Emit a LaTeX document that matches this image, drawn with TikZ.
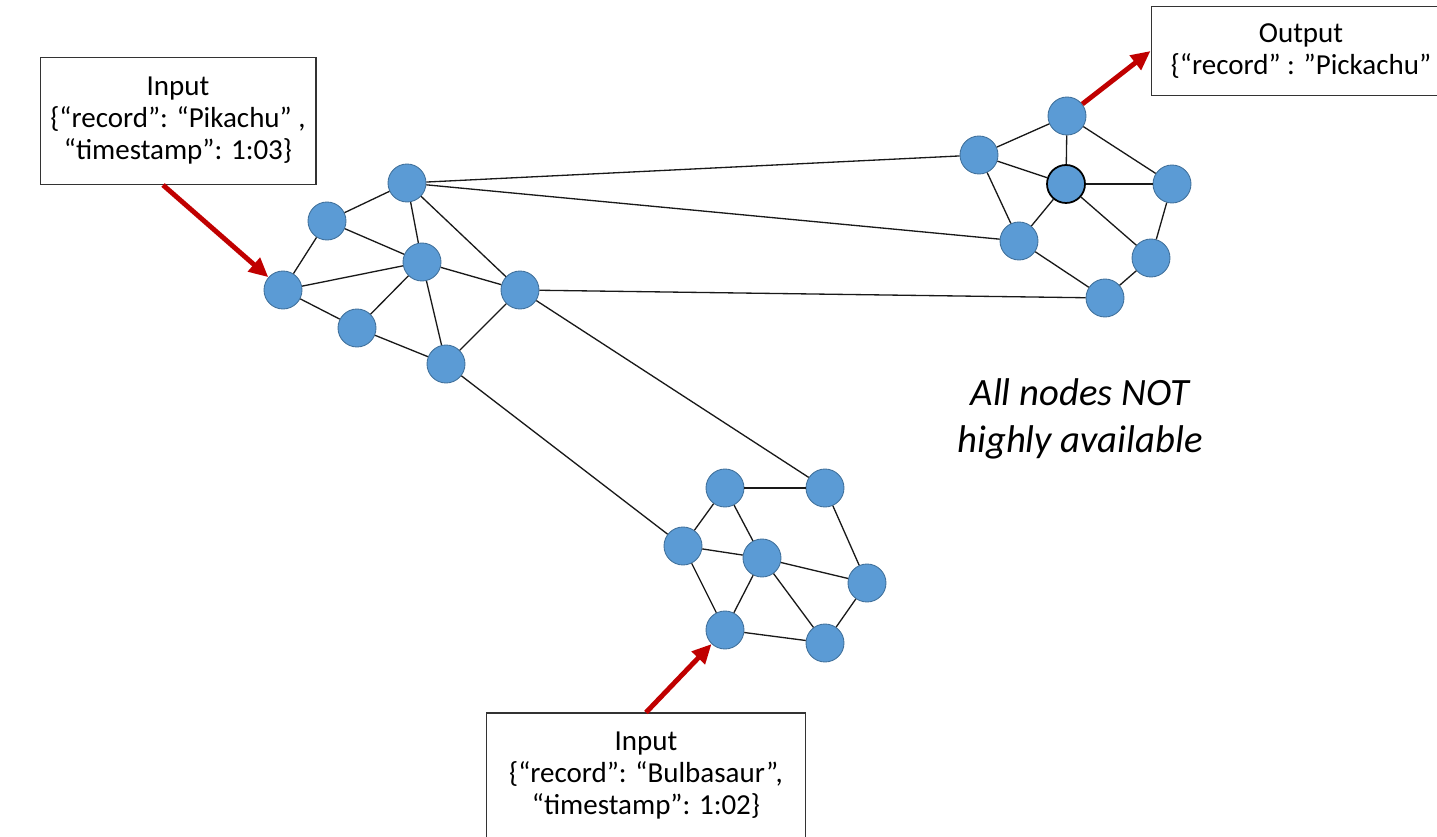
\documentclass[tikz,border=0pt]{standalone}
\usepackage{fontspec}
\setmainfont{Carlito}
\usetikzlibrary{positioning,arrows.meta}
\definecolor{nodeblue}{HTML}{5B9BD5}
\definecolor{nodeedge}{HTML}{41719C}
\definecolor{feedred}{HTML}{C00000}

\begin{document}
\begin{tikzpicture}
    [x=0.02cm, y=-0.02cm,
     vertex/.style={circle,fill=nodeblue,draw=nodeedge,line width=0.5pt,minimum size=0.76cm,inner sep=0pt},
     hub/.style={vertex,draw=black,line width=1pt},
     doc/.style={rectangle,draw=black!80,line width=0.6pt,align=center,inner sep=0pt,
                 font=\fontsize{16.5}{18.2}\selectfont},
     feed/.style={draw=feedred,line width=2.8pt,-{Triangle[length=11pt,width=10pt]}},
     link/.style={draw=black!90,line width=0.75pt}]
    \useasboundingbox (0,0) rectangle (1437,837);

    % left cluster
    \node[vertex] (a1) at (407,183) {};
    \node[vertex] (a2) at (327,221) {};
    \node[vertex] (a3) at (422,262) {};
    \node[vertex] (a4) at (283,290) {};
    \node[vertex] (a5) at (520,290) {};
    \node[vertex] (a6) at (357,328) {};
    \node[vertex] (a7) at (446,364) {};

    % right cluster
    \node[vertex] (b1) at (1067,116) {};
    \node[vertex] (b2) at (979,155) {};
    \node[hub]    (b3) at (1066,184) {};
    \node[vertex] (b4) at (1172,184) {};
    \node[vertex] (b5) at (1019,241) {};
    \node[vertex] (b6) at (1151,258) {};
    \node[vertex] (b7) at (1105,298) {};

    % bottom cluster
    \node[vertex] (c1) at (725,488) {};
    \node[vertex] (c2) at (825,488) {};
    \node[vertex] (c3) at (683,546) {};
    \node[vertex] (c4) at (762,558) {};
    \node[vertex] (c5) at (867,583) {};
    \node[vertex] (c6) at (725,630) {};
    \node[vertex] (c7) at (825,643) {};

    \draw[link] (a1) edge (a2) edge (a3) edge (a5) edge (b2) edge (b5);
    \draw[link] (a3) edge (a2) edge (a4) edge (a6) edge (a5) edge (a7);
    \draw[link] (a4) edge (a2) edge (a6);
    \draw[link] (a7) edge (a6) edge (a5) edge (c3);
    \draw[link] (a5) edge (b7) edge (c2);

    \draw[link] (b1) edge (b2) edge (b3) edge (b4);
    \draw[link] (b3) edge (b2) edge (b5) edge (b4) edge (b6);
    \draw[link] (b5) edge (b2) edge (b7);
    \draw[link] (b6) edge (b4) edge (b7);

    \draw[link] (c1) edge (c2) edge (c3) edge (c4);
    \draw[link] (c4) edge (c3) edge (c6) edge (c5) edge (c7);
    \draw[link] (c6) edge (c3) edge (c7);
    \draw[link] (c5) edge (c2) edge (c7);

    % input and output boxes
    \node[doc,minimum width=5.52cm,minimum height=2.54cm] (in1) at (178,121)
      {Input\\\{“record”: “Pikachu” ,\\“timestamp”: 1:03\}};
    \node[doc,minimum width=6.0cm,minimum height=1.78cm] (out) at (1301,51)
      {Output\\\{“record” : ”Pickachu”};
    \node[doc,minimum width=6.38cm,minimum height=2.52cm] (in2) at (646,776)
      {Input\\\{“record”: “Bulbasaur”,\\“timestamp”: 1:02\}};

    \draw[feed] ([xshift=-0.3cm]in1.south) -- (a4);
    \draw[feed] (b1) -- (out.west);
    \draw[feed] (in2.north) -- (c6);

    \node[align=center,font=\fontsize{22}{26.5}\selectfont\itshape] (note) at (1080,419)
      {All nodes NOT\\highly available};
\end{tikzpicture}
\end{document}
